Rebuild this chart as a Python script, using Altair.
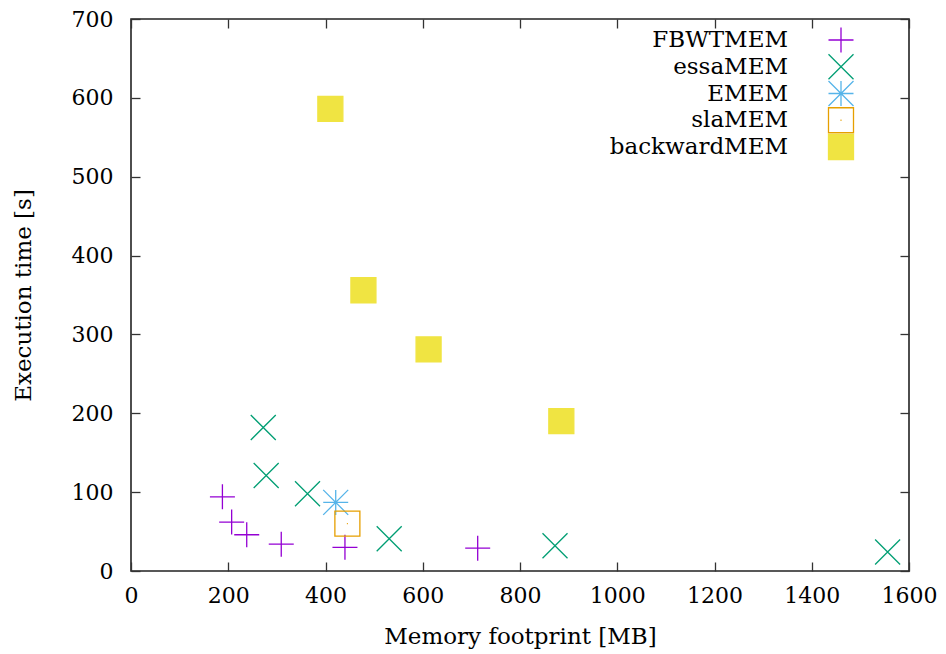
import altair as alt
import pandas as pd

series_names = ["FBWTMEM", "essaMEM", "EMEM", "slaMEM", "backwardMEM"]

fbwt_mem = [188, 207, 238, 309, 440, 713]
fbwt_time = [94, 62, 46, 34, 30, 29]
essa_mem = [272, 278, 363, 531, 872, 1556]
essa_time = [182, 121, 98, 41, 32, 24]
emem_mem = [421]
emem_time = [87]
sla_mem = [445]
sla_time = [60]
backward_mem = [410, 478, 612, 885]
backward_time = [586, 356, 281, 190]

x_ticks = [0, 200, 400, 600, 800, 1000, 1200, 1400, 1600]
y_ticks = [0, 100, 200, 300, 400, 500, 600, 700]

stroke_colors = ["#9400D3", "#009E73", "#56B4E9", "#E69F00", "#F0E442"]
fill_colors = ["transparent", "transparent", "transparent", "transparent", "#F0E442"]
shapes = [
    "M-1,0L1,0M0,-1L0,1",
    "M-1,-1L1,1M-1,1L1,-1",
    "M-1,0L1,0M0,-1L0,1M-1,-1L1,1M-1,1L1,-1",
    "M-1,-1L1,-1L1,1L-1,1Z M-0.04,0L0.04,0",
    "square",
]
sizes = [625, 625, 676, 676, 676]

rows = []
for name, xs, ys in [
    ("FBWTMEM", fbwt_mem, fbwt_time),
    ("essaMEM", essa_mem, essa_time),
    ("EMEM", emem_mem, emem_time),
    ("slaMEM", sla_mem, sla_time),
    ("backwardMEM", backward_mem, backward_time),
]:
    for a, b in zip(xs, ys):
        rows.append({"series": name, "mem": a, "time": b})
df = pd.DataFrame(rows)
legend_df = pd.DataFrame({"series": series_names})

FONT = "DejaVu Serif"

xscale = alt.Scale(domain=[0, 1600], nice=False, zero=False)
yscale = alt.Scale(domain=[0, 700], nice=False, zero=False)

stroke_enc = alt.Stroke("series:N", scale=alt.Scale(domain=series_names, range=stroke_colors), legend=None)
fill_enc = alt.Fill("series:N", scale=alt.Scale(domain=series_names, range=fill_colors), legend=None)
shape_enc = alt.Shape("series:N", scale=alt.Scale(domain=series_names, range=shapes), legend=None)
size_enc = alt.Size("series:N", scale=alt.Scale(domain=series_names, range=sizes), legend=None)

common_axis = dict(
    offset=-9,
    tickSize=9,
    domain=False,
    grid=False,
    tickColor="#333333",
    tickWidth=1.3,
    labelFont=FONT,
    labelFontSize=22,
    labelColor="black",
    labelFlush=False,
    labelOverlap=False,
    format="d",
    titleFont=FONT,
    titleFontSize=23,
    titleFontWeight="normal",
    titleColor="black",
)

points = alt.Chart(df).mark_point(opacity=1, strokeWidth=1.3).encode(
    x=alt.X("mem:Q", scale=xscale,
            axis=alt.Axis(orient="bottom", values=x_ticks, labelPadding=14,
                          title="Memory footprint [MB]", titlePadding=19, **common_axis)),
    y=alt.Y("time:Q", scale=yscale,
            axis=alt.Axis(orient="left", values=y_ticks, labelPadding=18,
                          title="Execution time [s]", titlePadding=36, **common_axis)),
    stroke=stroke_enc,
    fill=fill_enc,
    shape=shape_enc,
    size=size_enc,
)

mirror_axis = dict(common_axis)
mirror_axis.update(labels=False, title=None)

mirror = alt.Chart(df).mark_point(opacity=0).encode(
    x=alt.X("mem:Q", scale=xscale, axis=alt.Axis(orient="top", values=x_ticks, **mirror_axis)),
    y=alt.Y("time:Q", scale=yscale, axis=alt.Axis(orient="right", values=y_ticks, **mirror_axis)),
)

# key (legend) drawn as its own layer: one row per series
key_y = alt.Y("series:N", scale=alt.Scale(type="point", domain=series_names, range=[21, 128], padding=0), axis=None)

key_symbols = alt.Chart(legend_df).mark_point(opacity=1, strokeWidth=1.3).encode(
    x=alt.value(710),
    y=key_y,
    stroke=stroke_enc,
    fill=fill_enc,
    shape=shape_enc,
    size=size_enc,
)

key_labels = alt.Chart(legend_df).mark_text(
    align="right", baseline="middle", font=FONT, fontSize=23, color="black"
).encode(
    x=alt.value(657),
    y=key_y,
    text="series:N",
)

chart = alt.layer(points, mirror, key_symbols, key_labels).resolve_scale(
    y="independent"
).resolve_axis(x="independent", y="independent").properties(
    width=778,
    height=552,
    autosize=alt.AutoSizeParams(type="none"),
    padding={"left": 123, "top": 11, "right": 29, "bottom": 83},
).configure(background="white").configure_view(stroke="#222222", strokeWidth=1.6)

chart.save("out.html", embed_options={"renderer": "svg", "actions": False})
